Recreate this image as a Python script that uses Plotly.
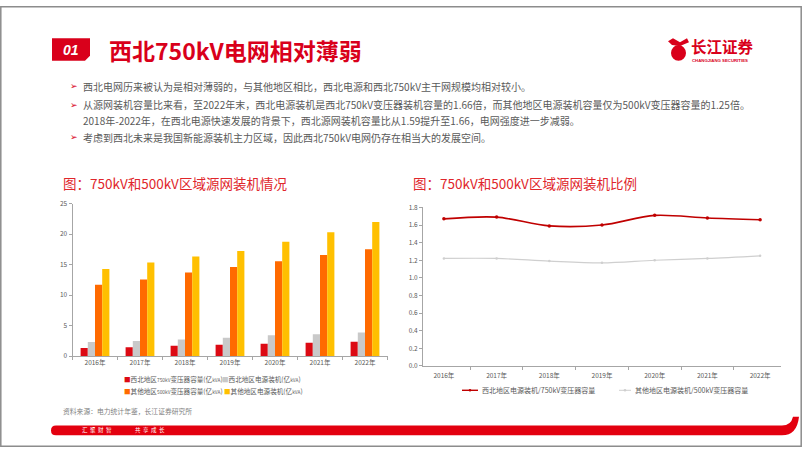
import plotly.graph_objects as go

W, H = 802, 451

# ---------------- data ----------------
years = ["2016年", "2017年", "2018年", "2019年", "2020年", "2021年", "2022年"]
nw_transformer_750 = [1.34, 1.44, 1.71, 1.87, 2.03, 2.19, 2.35]
nw_generation = [2.30, 2.46, 2.72, 2.99, 3.42, 3.58, 3.85]
other_transformer_500 = [11.70, 12.55, 13.68, 14.58, 15.55, 16.56, 17.52]
other_generation = [14.26, 15.33, 16.30, 17.20, 18.75, 20.30, 21.96]
nw_ratio = [1.67, 1.69, 1.59, 1.60, 1.71, 1.68, 1.66]
other_ratio = [1.22, 1.22, 1.19, 1.17, 1.20, 1.22, 1.25]

bar_names = ["西北地区750kV变压器容量(亿kVA)", "西北地区电源装机(亿kVA)",
             "其他地区500kV变压器容量(亿kVA)", "其他地区电源装机(亿kVA)"]
line_names = ["西北地区电源装机/750kV变压器容量", "其他地区电源装机/500kV变压器容量"]

bullets = [
    "西北电网历来被认为是相对薄弱的，与其他地区相比，西北电源和西北750kV主干网规模均相对较小。",
    "从源网装机容量比来看，至2022年末，西北电源装机是西北750kV变压器装机容量的1.66倍，而其他地区电源装机容量仅为500kV变压器容量的1.25倍。",
    "2018年-2022年，在西北电源快速发展的背景下，西北源网装机容量比从1.59提升至1.66，电网强度进一步减弱。",
    "考虑到西北未来是我国新能源装机主力区域，因此西北750kV电网仍存在相当大的发展空间。",
]

RED = "#D9001B"
C_BAR = ["#DC0A14", "#C9C9C9", "#FF6A00", "#FFC000"]
C_LINE = ["#C00000", "#CFCFCF"]
GRAY_TXT = "#595959"
AXIS = "#A6A6A6"
FONT = "Noto Sans CJK SC"


def px(x):
    return x / W


def py(y):
    return 1 - y / H


fig = go.Figure()

bar_vals = [nw_transformer_750, nw_generation, other_transformer_500, other_generation]
for name, vals, col in zip(bar_names, bar_vals, C_BAR):
    fig.add_trace(go.Bar(x=years, y=vals, name=name, marker_color=col,
                         marker_line_width=0, xaxis="x", yaxis="y", showlegend=False))

for name, vals, col, w in zip(line_names, [nw_ratio, other_ratio], C_LINE, [1.6, 1.2]):
    fig.add_trace(go.Scatter(x=years, y=vals, name=name, mode="lines+markers",
                             line=dict(color=col, width=w, shape="spline", smoothing=0.9),
                             marker=dict(size=3.5 if w > 1.4 else 2.5, color=col),
                             xaxis="x2", yaxis="y2", showlegend=False))

axis_common = dict(showline=True, linecolor=AXIS, linewidth=1, ticks="outside",
                   ticklen=3, tickcolor=AXIS, showgrid=False, zeroline=False,
                   tickfont=dict(family=FONT, size=6.5, color=GRAY_TXT))

fig.update_layout(
    width=W, height=H, margin=dict(l=0, r=0, t=0, b=0),
    paper_bgcolor="white", plot_bgcolor="white",
    barmode="group", bargap=0.36, bargroupgap=0,
    font=dict(family=FONT, color=GRAY_TXT),
    xaxis=dict(domain=[px(72.5), px(387.5)], anchor="y", tickson="boundaries", **axis_common),
    yaxis=dict(domain=[py(358), py(202)], anchor="x", range=[0, 25], dtick=5, **axis_common),
    xaxis2=dict(domain=[px(423), px(781)], anchor="y2", tickson="boundaries",
                ticklabelstandoff=3, **axis_common),
    yaxis2=dict(domain=[py(368), py(206)], anchor="x2", range=[0, 1.8], dtick=0.2,
                tickformat=".1f", **axis_common),
)

shapes = []
annots = []


def note(x, y, text, size, color, family=FONT, xanchor="left"):
    annots.append(dict(xref="paper", yref="paper", x=px(x), y=py(y), text=text,
                       showarrow=False, font=dict(family=family, size=size, color=color),
                       xanchor=xanchor, yanchor="middle"))


# slide border
shapes.append(dict(type="rect", xref="paper", yref="paper", x0=px(0.8), x1=px(801.2),
                   y0=py(450.2), y1=py(0.8), line=dict(color="#8C8C8C", width=1.5)))


def path(pts, close=True):
    s = "M " + " L ".join(f"{px(x):.5f},{py(y):.5f}" for x, y in pts)
    return s + (" Z" if close else "")


# header "01" tag
shapes.append(dict(type="path", xref="paper", yref="paper",
                   path=path([(52, 33), (90, 33), (90, 51), (85, 56), (52, 56)]),
                   fillcolor=RED, line=dict(width=0)))
note(71, 45, "<b><i>01</i></b>", 14, "white", family="Liberation Sans", xanchor="center")
note(107, 45, "<b>西北750kV电网相对薄弱</b>", 23, RED)

# logo
shapes.append(dict(type="circle", xref="paper", yref="paper", x0=px(671), x1=px(686),
                   y0=py(56), y1=py(40), fillcolor=RED, line=dict(width=0)))
shapes.append(dict(type="path", xref="paper", yref="paper",
                   path=path([(668, 36), (673, 33), (680, 37), (687, 33), (689, 37), (680, 41), (672, 40)]),
                   fillcolor=RED, line=dict(width=0)))
note(689, 41, "<b>长江证券</b>", 15.5, RED)
note(690, 55.5, "<b>CHANGJIANG SECURITIES</b>", 4.3, RED, family="Liberation Sans")

# bullets
bullet_y = [82, 101, 117, 134]
bullet_marks = [True, True, False, True]
for text, yy, mark in zip(bullets, bullet_y, bullet_marks):
    if mark:
        note(74, yy, "➢", 9, RED, family="DejaVu Sans", xanchor="center")
    note(81, yy, text, 10, GRAY_TXT)

# chart titles
note(61, 181, "图：750kV和500kV区域源网装机情况", 13.5, "#E0262B")
note(411, 181, "图：750kV和500kV区域源网装机比例", 13.5, "#E0262B")


# left legend (compact, as in reference)
def small_latin(s):
    out = ""
    for ch in s:
        if ch.isascii() and ch not in "()":
            out += f"<span style='font-size:4.8px'>{ch}</span>"
        else:
            out += ch
    return out


leg_rows = [(381, [0, 1], [122, 220]), (394, [2, 3], [122, 222])]
for yy, idxs, xs in leg_rows:
    for i, xx in zip(idxs, xs):
        note(xx, yy, f"<span style='color:{C_BAR[i]}'>■</span>{small_latin(bar_names[i])}",
             6.6, GRAY_TXT)

# right legend
for (x0, x1, tx), col, name, w in zip([(462, 478, 480), (619, 631, 633)], C_LINE, line_names, [1.4, 1]):
    shapes.append(dict(type="line", xref="paper", yref="paper", x0=px(x0), x1=px(x1),
                       y0=py(393), y1=py(393), line=dict(color=col, width=w)))
    cx = (x0 + x1) / 2
    shapes.append(dict(type="circle", xref="paper", yref="paper", x0=px(cx - 1.3), x1=px(cx + 1.3),
                       y0=py(394.3), y1=py(391.7), fillcolor=col, line=dict(width=0)))
    note(tx, 393, name, 7, GRAY_TXT)

# source note
note(61, 414, "资料来源：电力统计年鉴，长江证券研究所", 6.8, "#7F7F7F")

# bottom red band with curved right end
band = (f"M {px(56):.5f},{py(429):.5f} L {px(782):.5f},{py(429):.5f} "
        f"Q {px(791):.5f},{py(429):.5f} {px(793):.5f},{py(420):.5f} "
        f"L {px(799):.5f},{py(420):.5f} "
        f"Q {px(797):.5f},{py(439):.5f} {px(782):.5f},{py(439):.5f} "
        f"L {px(56):.5f},{py(439):.5f} "
        f"Q {px(51):.5f},{py(439):.5f} {px(51):.5f},{py(434):.5f} "
        f"Q {px(51):.5f},{py(429):.5f} {px(56):.5f},{py(429):.5f} Z")
shapes.append(dict(type="path", xref="paper", yref="paper", path=band,
                   fillcolor="#E3000F", line=dict(width=0)))
note(80, 434, "汇  聚  财  智", 5.5, "white")
note(133, 434, "共  享  成  长", 5.5, "white")

fig.update_layout(shapes=shapes, annotations=annots)
fig.write_html("out.html")
